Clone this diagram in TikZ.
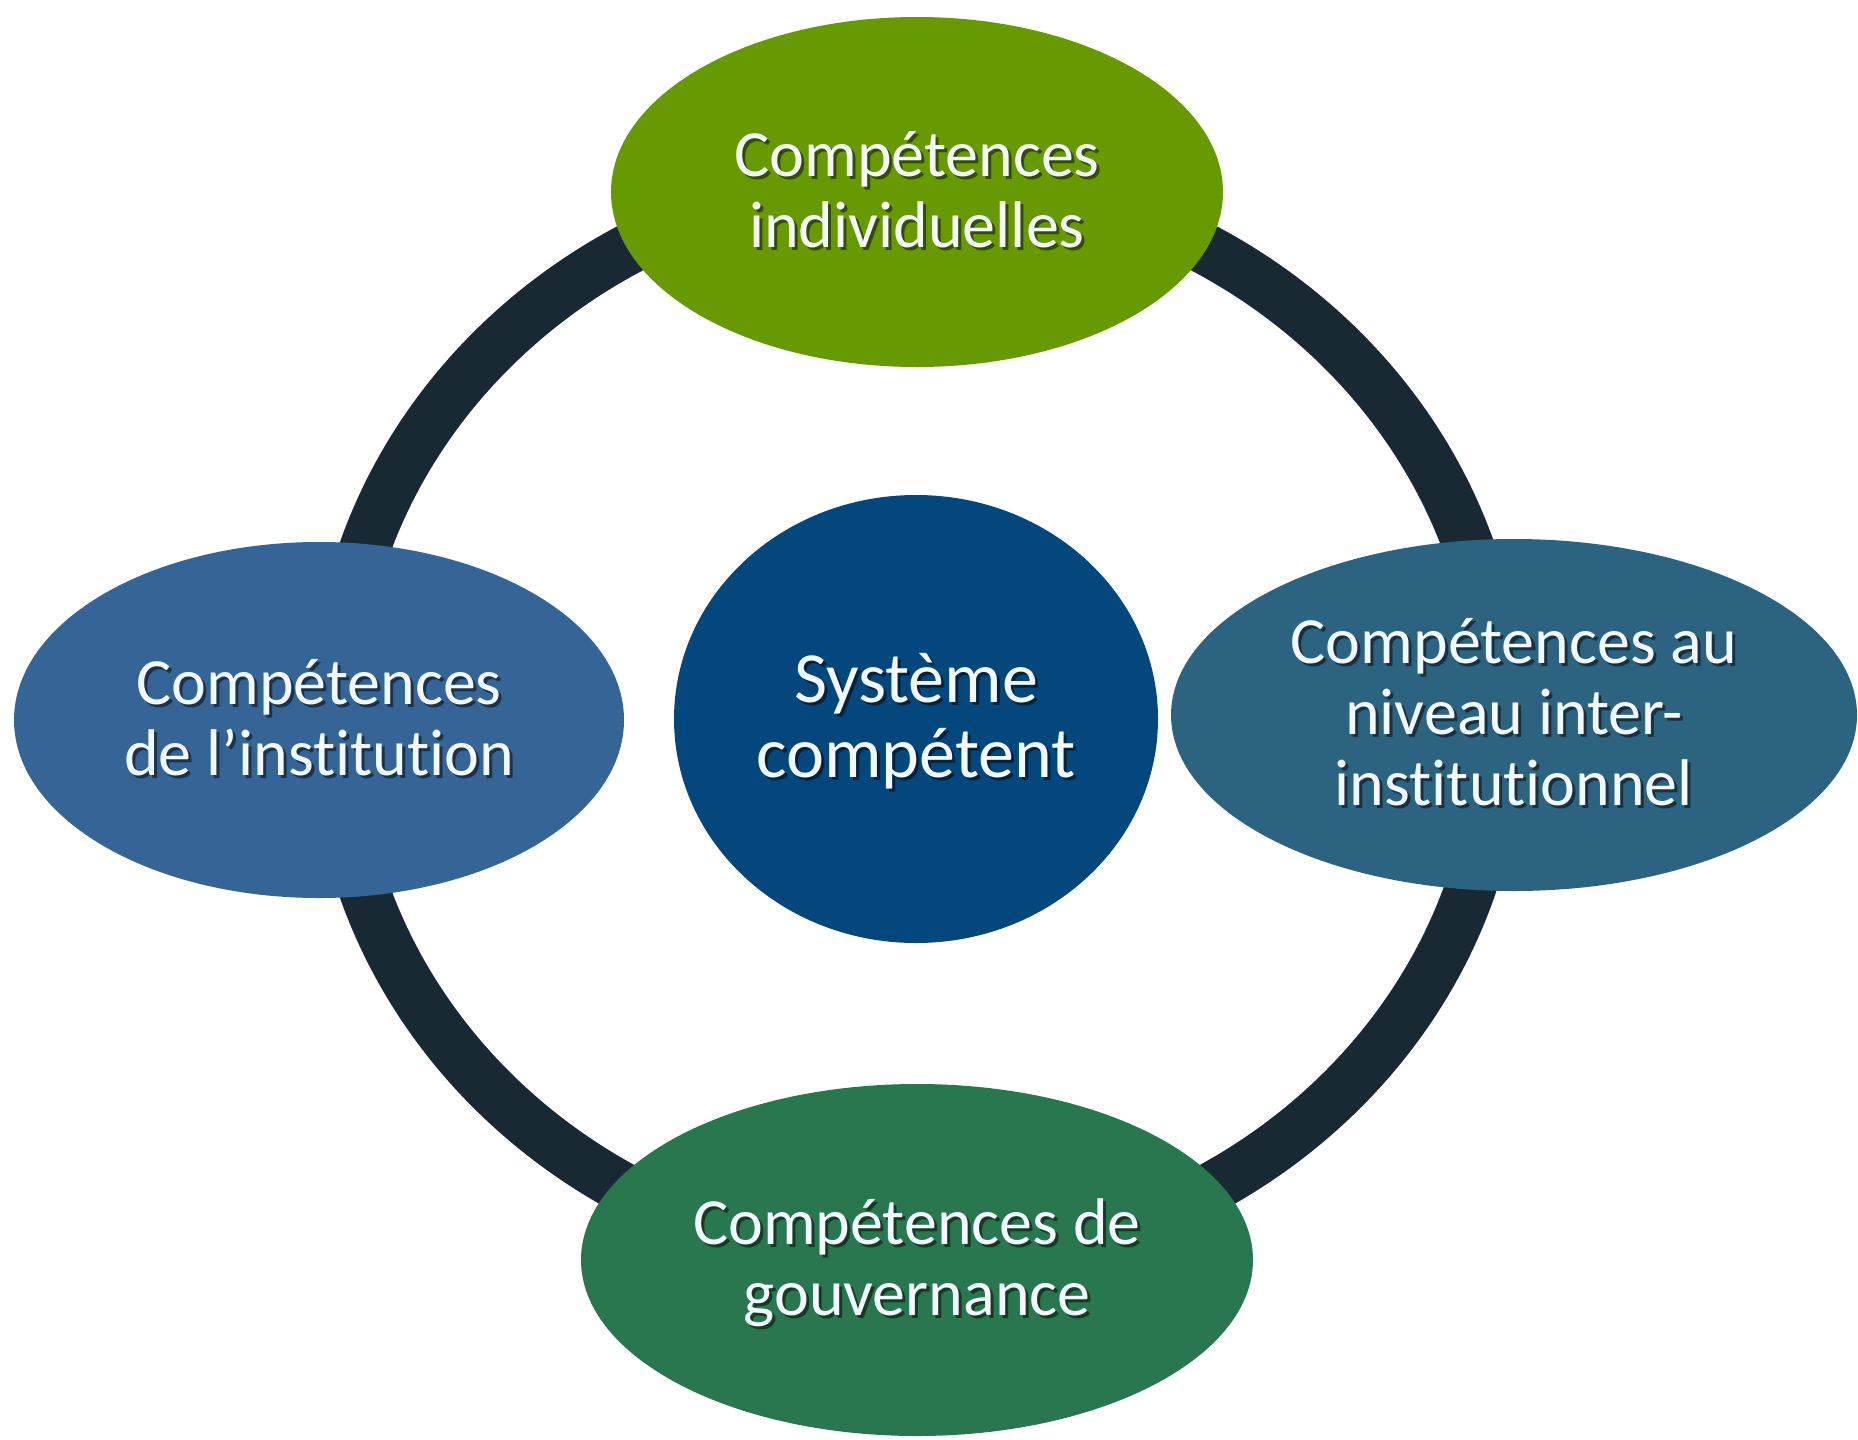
\documentclass[tikz,border=0pt]{standalone}
\usepackage{fontspec}
\setmainfont[Ligatures=NoCommon]{Carlito}
\usetikzlibrary{shapes.geometric}
\definecolor{cGreen}{RGB}{103,154,0}
\definecolor{cLeft}{RGB}{52,101,150}
\definecolor{cRight}{RGB}{44,99,128}
\definecolor{cBottom}{RGB}{40,119,78}
\definecolor{cCenter}{RGB}{3,71,124}
\definecolor{cRing}{RGB}{24,41,52}
\definecolor{cText}{RGB}{242,248,252}
\newcommand\shadowed[2]{\raisebox{-7pt}[\height][\depth]{\leavevmode\rlap{\hspace{3pt}\raisebox{-3pt}{\color{#1}\begin{tabular}{@{}c@{}}#2\end{tabular}}}\begin{tabular}{@{}c@{}}#2\end{tabular}}}
\tikzset{
  blob/.style={ellipse, inner sep=0pt, draw=none, text=cText,
    font=\fontsize{66}{71}\selectfont},
  ringline/.style={draw=cRing, line width=51pt}
}
\begin{document}
\begin{tikzpicture}[x=1pt,y=-1pt]
\useasboundingbox (0,0) rectangle (1858,1440);
\draw[ringline] (917,720) ellipse [x radius=582, y radius=542];
\node[blob, fill=cGreen, minimum width=612, minimum height=350] (indiv) at (917,192)
  {\shadowed{cGreen!50!black}{Compétences\\individuelles}};
\node[blob, fill=cLeft, minimum width=610, minimum height=356] (inst) at (319,720)
  {\shadowed{cLeft!50!black}{Compétences\\de l’institution}};
\node[blob, fill=cRight, minimum width=686, minimum height=352] (inter) at (1514,715)
  {\shadowed{cRight!50!black}{Compétences au\\niveau inter-\\institutionnel}};
\node[blob, fill=cBottom, minimum width=672, minimum height=352] (gouv) at (917,1260)
  {\shadowed{cBottom!50!black}{Compétences de\\gouvernance}};
\node[blob, fill=cCenter, minimum width=484, minimum height=448,
  font=\fontsize{72}{75}\selectfont] (sys) at (916,719)
  {\shadowed{cCenter!50!black}{Système\\compétent}};
\end{tikzpicture}
\end{document}
